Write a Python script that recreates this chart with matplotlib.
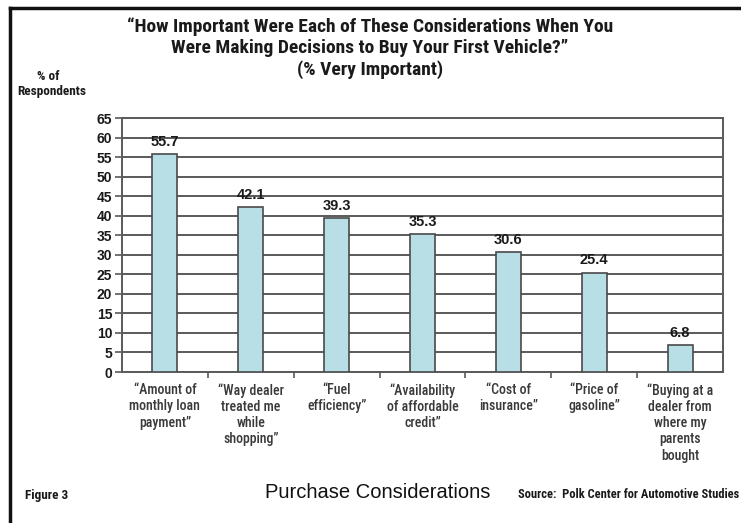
import numpy as np
import matplotlib.pyplot as plt
from matplotlib import font_manager as fm
from matplotlib.lines import Line2D

# data
categories = ['\u201cAmount of\nmonthly loan\npayment\u201d',
              '\u201cWay dealer\ntreated me\nwhile\nshopping\u201d',
              '\u201cFuel\nefficiency\u201d',
              '\u201cAvailability\nof affordable\ncredit\u201d',
              '\u201cCost of\ninsurance\u201d',
              '\u201cPrice of\ngasoline\u201d',
              '\u201cBuying at a\ndealer from\nwhere my\nparents\nbought']
pct_very_important = [55.7, 42.1, 39.3, 35.3, 30.6, 25.4, 6.8]
yticks = list(range(0, 70, 5))

# condensed font if there is one, else DejaVu condensed
have = set(f.name for f in fm.fontManager.ttflist)
narrow = [n for n in ['Roboto Condensed', 'Liberation Sans Narrow'] if n in have] + ['DejaVu Sans']
arial = ['Liberation Sans', 'DejaVu Sans']
NS = dict(family=narrow, fontstretch='condensed')

fig = plt.figure(figsize=(7.41, 5.23), dpi=100)
fig.patch.set_facecolor('white')
ax = fig.add_axes([122/741, 1-372/523, (723-122)/741, (372-118)/523])

ind = np.arange(len(categories))
ax.set_axisbelow(True)
ax.yaxis.grid(True, color='#5a5a5a', linewidth=1.4)
bars = ax.bar(ind, pct_very_important, 0.29, color='#b9dfe6',
              edgecolor='#4a4a4a', linewidth=1.2, zorder=3)
for x, v in zip(ind, pct_very_important):
    ax.text(x, v + 1.4, '%.1f' % v, ha='center', va='bottom',
            fontsize=10.5, fontweight='bold', family=arial, color='#1a1a1a')

ax.set_xlim(-0.5, len(categories) - 0.5)
ax.set_ylim(0, 65)
ax.set_yticks(yticks)
ax.set_yticklabels([str(t) for t in yticks], fontsize=10, fontweight='bold',
                   family=arial, color='#1a1a1a')
ax.tick_params(axis='y', length=5, width=1.2, color='#5a5a5a', pad=2)
ax.set_xticks(ind)
ax.set_xticklabels(categories, fontsize=10, fontweight='medium', color='#3a3a3a',
                   linespacing=1.2, **NS)
ax.tick_params(axis='x', which='major', length=0, pad=8)
ax.set_xticks(ind[:-1] + 0.5, minor=True)
ax.tick_params(axis='x', which='minor', length=4, width=1.2, color='#5a5a5a')
for s in ['left', 'bottom', 'right', 'top']:
    ax.spines[s].set_color('#5a5a5a')
    ax.spines[s].set_linewidth(1.4)

# titles and notes
title_lines = ['\u201cHow Important Were Each of These Considerations When You',
               'Were Making Decisions to Buy Your First Vehicle?\u201d',
               '(% Very Important)']
for y, t in zip([27, 48, 70], title_lines):
    fig.text(370/741, 1-y/523, t, ha='center', va='center', fontsize=14,
             fontweight='bold', color='#1a1a1a', **NS)
fig.text(48/741, 1-77/523, '% of', ha='center', va='center', fontsize=9.5,
         fontweight='bold', color='#1a1a1a', **NS)
fig.text(52/741, 1-92/523, 'Respondents', ha='center', va='center', fontsize=9.5,
         fontweight='bold', color='#1a1a1a', **NS)
fig.text(378/741, 1-493/523, 'Purchase Considerations', ha='center', va='center',
         fontsize=14.5, family=arial, color='#111111')
fig.text(739/741, 1-495/523, 'Source:  Polk Center for Automotive Studies', ha='right',
         va='center', fontsize=9, fontweight='bold', color='#1a1a1a', **NS)
fig.text(25/741, 1-495/523, 'Figure 3', ha='left', va='center', fontsize=9.5,
         fontweight='bold', color='#1a1a1a', **NS)

# frame (top and left edges)
fig.add_artist(Line2D([10/741, 1], [1-8/523, 1-8/523], color='#111111', linewidth=2.5))
fig.add_artist(Line2D([10/741, 10/741], [0, 1-8/523], color='#111111', linewidth=2.5))

fig.savefig('out.png', dpi=100)
